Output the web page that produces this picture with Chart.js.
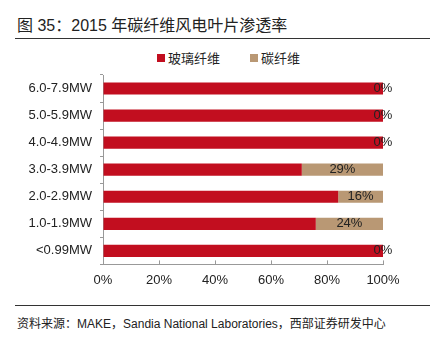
<!DOCTYPE html>
<html>
<head>
<meta charset="utf-8">
<script src="https://cdn.jsdelivr.net/npm/chart.js@4"></script>
<style>
  body { margin: 0; width: 430px; height: 337px; background: #fff; position: relative; overflow: hidden; font-family: "Liberation Sans", Arial, sans-serif; }
  .cn { font-family: "Noto Sans CJK SC", sans-serif; }
  #title { position: absolute; left: 17px; top: 12px; font-size: 16px; color: #222; white-space: nowrap; }
  #topline { position: absolute; left: 15px; right: 0; top: 38px; border-top: 1px solid #333; }
  #legend { position: absolute; top: 50px; height: 16px; font-size: 13px; color: #222; line-height: 16px; }
  .item { position: absolute; top: 0; white-space: nowrap; }
  .box { display: inline-block; width: 8px; height: 8px; vertical-align: 1px; margin-right: 3px; }
  #chartbox { position: absolute; left: 0; top: 40px; width: 430px; height: 265px; }
  #botline { position: absolute; left: 15px; right: 0; top: 305px; border-top: 1px solid #333; }
  #source { position: absolute; left: 17px; top: 314px; font-size: 12px; color: #222; white-space: nowrap; }
</style>
</head>
<body>
<div id="title"><span class="cn">图</span> 35<span class="cn">：</span>2015 <span class="cn">年碳纤维风电叶片渗透率</span></div>
<div id="topline"></div>
<div id="legend"></div>
<div id="chartbox"><canvas id="myChart"></canvas></div>
<div id="botline"></div>
<div id="source"><span class="cn">资料来源：</span>MAKE<span class="cn">，</span>Sandia National Laboratories<span class="cn">，西部证券研发中心</span></div>

<script>
'use strict';

// ** DATA **

let categories = ['6.0-7.9MW', '5.0-5.9MW', '4.0-4.9MW', '3.0-3.9MW', '2.0-2.9MW', '1.0-1.9MW', '<0.99MW'];
let glassShare = [100, 100, 100, 71, 84, 76, 100];
let carbonShare = [0, 0, 0, 29, 16, 24, 0];
let seriesNames = ['玻璃纤维', '碳纤维'];
let seriesColors = ['#C20E1F', '#B99874'];
let xTicks = [0, 20, 40, 60, 80, 100];

// ** LEGEND (html) **

let legendBox = document.getElementById('legend');
let legendLeft = [157, 250];
for (let i = 0; i < seriesNames.length; i++) {
  let item = document.createElement('span');
  item.className = 'item cn';
  item.style.left = legendLeft[i] + 'px';
  item.innerHTML = '<span class="box" style="background:' + seriesColors[i] + '"></span>' + seriesNames[i];
  legendBox.appendChild(item);
}

// ** PLUGINS **

// percent labels in the middle of the carbon segment
const segmentLabels = {
  id: 'segmentLabels',
  afterDatasetsDraw(chart) {
    const c = chart.ctx;
    const meta = chart.getDatasetMeta(1);
    c.save();
    c.font = '13px "Liberation Sans", Arial, sans-serif';
    c.fillStyle = '#222';
    c.textAlign = 'center';
    c.textBaseline = 'middle';
    meta.data.forEach(function (bar, i) {
      let mid = (bar.x + bar.base) / 2;
      c.fillText(carbonShare[i] + '%', mid, bar.y);
    });
    c.restore();
  }
};

// x axis tick marks point up into the plot
const innerTicks = {
  id: 'innerTicks',
  afterDraw(chart) {
    const c = chart.ctx;
    const xs = chart.scales.x;
    c.save();
    c.strokeStyle = '#999';
    c.lineWidth = 1;
    xTicks.forEach(function (v) {
      let px = Math.round(xs.getPixelForValue(v)) + 0.5;
      c.beginPath();
      c.moveTo(px, xs.top);
      c.lineTo(px, xs.top - 4);
      c.stroke();
    });
    c.restore();
  }
};

// ** CHART **

const ctx = document.getElementById('myChart');

new Chart(ctx, {
  type: 'bar',
  data: {
    labels: categories,
    datasets: [
      { label: seriesNames[0], data: glassShare, backgroundColor: seriesColors[0], borderWidth: 0 },
      { label: seriesNames[1], data: carbonShare, backgroundColor: seriesColors[1], borderWidth: 0 }
    ]
  },
  options: {
    indexAxis: 'y',
    responsive: true,
    maintainAspectRatio: false,
    animation: false,
    layout: { padding: { left: 0, right: 47, top: 35, bottom: 9 } },
    datasets: { bar: { categoryPercentage: 1, barPercentage: 0.45 } },
    plugins: {
      tooltip: { enabled: false },
      legend: { display: false }
    },
    scales: {
      x: {
        stacked: true,
        min: 0,
        max: 100,
        afterBuildTicks(scale) { scale.ticks = xTicks.map(v => ({ value: v })); },
        grid: { display: true, drawOnChartArea: false, drawTicks: false },
        border: { color: '#999' },
        ticks: {
          padding: 8,
          color: '#222',
          font: { size: 13, family: '"Liberation Sans", Arial, sans-serif' },
          callback: v => v + '%'
        }
      },
      y: {
        stacked: true,
        afterFit(scale) { scale.width = 103; },
        grid: { display: true, drawOnChartArea: false, drawTicks: true, tickLength: 3, offset: true, color: '#999' },
        border: { color: '#999' },
        ticks: {
          padding: 8,
          color: '#222',
          font: { size: 13, family: '"Liberation Sans", Arial, sans-serif' }
        }
      }
    }
  },
  plugins: [segmentLabels, innerTicks]
});
</script>
</body>
</html>
